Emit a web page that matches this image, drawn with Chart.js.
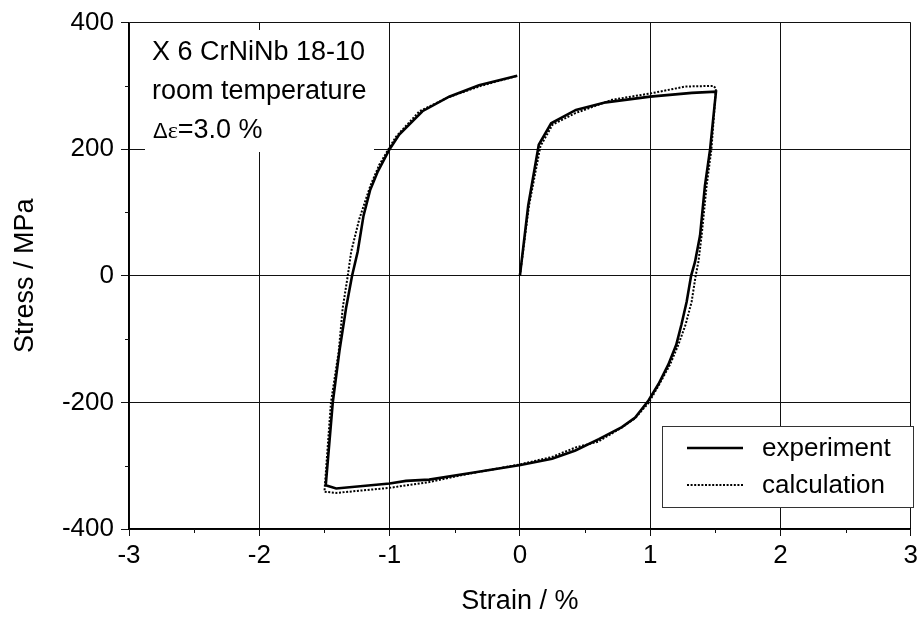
<!DOCTYPE html>
<html>
<head>
<meta charset="utf-8">
<script src="https://cdn.jsdelivr.net/npm/chart.js@4"></script>
<style>
  html, body { margin: 0; padding: 0; background: #fff; }
</style>
</head>
<body>
<canvas id="loop" width="922" height="618"></canvas>
<script>
// measured hysteresis loop (solid)
const expStrain = [0, 0.064, 0.145, 0.24, 0.43, 0.66, 1.0, 1.32, 1.505,
  1.46, 1.42, 1.383, 1.344, 1.314, 1.28, 1.24, 1.20, 1.14, 1.064, 0.987, 0.885, 0.783, 0.606,
  0.426, 0.247, 0.005, -0.365, -0.696, -0.874, -1.0, -1.41, -1.49,
  -1.436, -1.385, -1.334, -1.288, -1.245, -1.2, -1.15, -1.09, -1.0, -0.926, -0.748, -0.543, -0.314, -0.02];
const expStress = [0, 111, 207, 241, 262, 274, 283, 289, 291,
  200, 142, 64, 22, 0, -41, -77, -109, -140, -171, -197, -224, -239, -258,
  -276, -289, -299, -311, -322, -324, -328, -336, -331,
  -200, -119, -51, 0, 38, 95, 135, 165, 200, 223, 260, 283, 301, 316];

// model calculation (dotted)
const calcStrain = [0, 0.07, 0.158, 0.252, 0.426, 0.706, 1.0, 1.27, 1.485, 1.505,
  1.47, 1.433, 1.395, 1.37, 1.349, 1.318, 1.272, 1.216, 1.153, 1.071, 0.99, 0.885, 0.78, 0.6,
  0.43, 0.25, 0, -0.4, -0.7, -1.0, -1.41, -1.5,
  -1.45, -1.39, -1.36, -1.321, -1.295, -1.232, -1.148, -1.08, -1.0, -0.95, -0.77, -0.55, -0.3, -0.02];
const calcStress = [0, 111, 205, 239, 257, 278, 288, 299, 300, 296,
  200, 142, 64, 22, 0, -41, -77, -109, -140, -171, -200, -225, -240, -262,
  -271, -286, -298, -313, -326, -335, -343, -341,
  -200, -119, -51, 0, 38, 90, 142, 175, 203, 220, 260, 282, 300, 316];

const xTickValues = [-3, -2, -1, 0, 1, 2, 3];
const yTickValues = [-400, -200, 0, 200, 400];
const xMinorTicks = [-2.5, -1.5, -0.5, 0.5, 1.5, 2.5];
const yMinorTicks = [-300, -100, 100, 300];

const seriesNames = ["experiment", "calculation"];
const noteLines = ["X 6 CrNiNb 18-10", "room temperature", "=3.0 %"];

const FONT = "'Liberation Sans', Arial, Helvetica, sans-serif";
const SERIF = "'Liberation Serif', 'Times New Roman', serif";
Chart.defaults.font.family = FONT;
Chart.defaults.color = "#000";

const toPoints = (xs, ys) => xs.map((x, i) => ({ x: x, y: ys[i] }));

const NOTE_BOX = { x: 145, y: 30, w: 229, h: 122 };
const LEG_BOX = { x: 662, y: 426, w: 251, h: 81 };

const decor = {
  id: "decor",
  beforeDatasetsDraw(chart) {
    const ctx = chart.ctx;
    ctx.save();
    ctx.fillStyle = "#fff";
    ctx.fillRect(NOTE_BOX.x, NOTE_BOX.y, NOTE_BOX.w, NOTE_BOX.h);
    ctx.fillRect(LEG_BOX.x, LEG_BOX.y, LEG_BOX.w, LEG_BOX.h);
    ctx.restore();
  },
  afterDatasetsDraw(chart) {
    const ctx = chart.ctx;
    const xs = chart.scales.x, ys = chart.scales.y;
    const area = chart.chartArea;
    ctx.save();

    // minor ticks, outside the axes
    ctx.strokeStyle = "#111";
    ctx.lineWidth = 1;
    ctx.beginPath();
    xMinorTicks.forEach(v => {
      const px = Math.round(xs.getPixelForValue(v)) + 0.5;
      ctx.moveTo(px, area.bottom);
      ctx.lineTo(px, area.bottom + 4);
    });
    yMinorTicks.forEach(v => {
      const py = Math.round(ys.getPixelForValue(v)) + 0.5;
      ctx.moveTo(area.left - 4, py);
      ctx.lineTo(area.left, py);
    });
    ctx.stroke();

    // material note
    ctx.fillStyle = "#000";
    ctx.textBaseline = "alphabetic";
    ctx.textAlign = "left";
    ctx.font = "27px " + FONT;
    ctx.fillText(noteLines[0], 152, 60);
    ctx.fillText(noteLines[1], 152, 99);
    let x = 153;
    ctx.font = "22px " + FONT;
    ctx.fillText("\u0394", x, 138);
    x += ctx.measureText("\u0394").width;
    ctx.font = "24px " + SERIF;
    ctx.fillText("\u03b5", x, 138);
    x += ctx.measureText("\u03b5").width;
    ctx.font = "27px " + FONT;
    ctx.fillText(noteLines[2], x, 138);

    // legend box
    ctx.strokeStyle = "#333";
    ctx.lineWidth = 1;
    ctx.strokeRect(LEG_BOX.x + 0.5, LEG_BOX.y + 0.5, LEG_BOX.w, LEG_BOX.h);
    const rows = [448, 485];
    chart.data.datasets.forEach((ds, i) => {
      ctx.beginPath();
      ctx.strokeStyle = ds.borderColor;
      ctx.lineWidth = ds.borderWidth;
      ctx.setLineDash(ds.borderDash || []);
      ctx.moveTo(687, rows[i]);
      ctx.lineTo(743, rows[i]);
      ctx.stroke();
      ctx.setLineDash([]);
      ctx.font = "26px " + FONT;
      ctx.textBaseline = "middle";
      ctx.fillStyle = "#000";
      ctx.fillText(ds.label, 762, rows[i] + 1);
    });
    ctx.restore();
  }
};

new Chart(document.getElementById("loop"), {
  type: "scatter",
  data: {
    datasets: [
      {
        label: seriesNames[0],
        data: toPoints(expStrain, expStress),
        showLine: true,
        borderColor: "#000",
        borderWidth: 2.6,
        pointRadius: 0,
        tension: 0,
        fill: false
      },
      {
        label: seriesNames[1],
        data: toPoints(calcStrain, calcStress),
        showLine: true,
        borderColor: "#000",
        borderWidth: 2,
        borderDash: [2, 1.6],
        pointRadius: 0,
        tension: 0,
        fill: false
      }
    ]
  },
  options: {
    responsive: false,
    animation: false,
    layout: { padding: { top: 19, right: 9, bottom: 0, left: 0 } },
    plugins: {
      legend: { display: false },
      tooltip: { enabled: false }
    },
    scales: {
      x: {
        type: "linear",
        min: -3,
        max: 3,
        afterBuildTicks: s => { s.ticks = xTickValues.map(v => ({ value: v })); },
        afterFit: s => { s.height = 89; },
        grid: { color: "#111", lineWidth: 1, tickLength: 7, tickColor: "#111" },
        border: { color: "#000", width: 1.5 },
        ticks: { font: { size: 26 }, color: "#000", padding: 4, maxRotation: 0, autoSkip: false },
        title: { display: true, text: "Strain / %", font: { size: 27 }, color: "#000", padding: { top: 0, bottom: 0 } }
      },
      y: {
        type: "linear",
        min: -400,
        max: 400,
        afterBuildTicks: s => { s.ticks = yTickValues.map(v => ({ value: v })); },
        afterFit: s => { s.width = 129; },
        grid: { color: "#111", lineWidth: 1, tickLength: 8, tickColor: "#111" },
        border: { color: "#000", width: 1.5 },
        ticks: { font: { size: 26 }, color: "#000", padding: 7, autoSkip: false },
        title: { display: true, text: "Stress / MPa", font: { size: 27 }, color: "#000", padding: { top: 9, bottom: 0 } }
      }
    }
  },
  plugins: [decor]
});
</script>
</body>
</html>
